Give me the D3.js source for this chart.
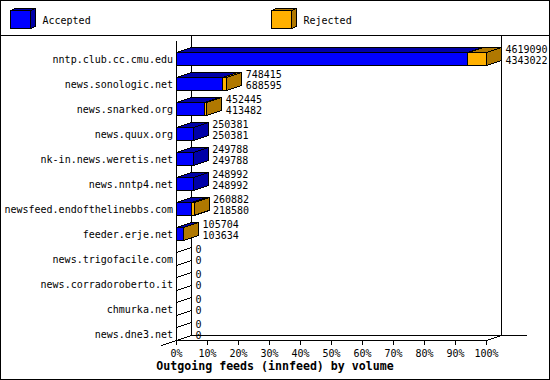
<!DOCTYPE html>
<html>
<head>
<meta charset="utf-8">
<script src="https://cdn.jsdelivr.net/npm/d3@7"></script>
<style>
  body { margin: 0; background: #fff; }
  svg text { font-family: "DejaVu Sans Mono", monospace; }
</style>
</head>
<body>
<div id="chart"></div>
<script>
var hosts = ["nntp.club.cc.cmu.edu", "news.sonologic.net", "news.snarked.org",
             "news.quux.org", "nk-in.news.weretis.net", "news.nntp4.net",
             "newsfeed.endofthelinebbs.com", "feeder.erje.net", "news.trigofacile.com",
             "news.corradoroberto.it", "chmurka.net", "news.dne3.net"],
    offered = [4619090, 748415, 452445, 250381, 249788, 248992, 260882, 105704, 0, 0, 0, 0],
    accepted = [4343022, 688595, 413482, 250381, 249788, 248992, 218580, 103634, 0, 0, 0, 0],
    legendKeys = ["Accepted", "Rejected"],
    pctTicks = [0, 10, 20, 30, 40, 50, 60, 70, 80, 90, 100],
    title = "Outgoing feeds (innfeed) by volume"

var W = 550, H = 380,
    DX = 15, DY = -5,
    colors = { Accepted: ["#0000ff", "#0000a8"], Rejected: ["#ffb000", "#b07800"] },
    maxVal = d3.max(offered)

var svg = d3.select("#chart").append("svg")
    .attr("width", W)
    .attr("height", H)
    .style("shape-rendering", "crispEdges")

var x = d3.scaleLinear().domain([0, maxVal]).range([176.5, 486.5]),
    pct = d3.scaleLinear().domain([0, 100]).range([176.5, 486.5]),
    y = d3.scaleBand().domain(hosts).range([46.5, 346.5])
        .paddingInner(0.48).paddingOuter(0.24)

// frame + legend
svg.append("rect").attr("x", 0.5).attr("y", 0.5).attr("width", W - 1).attr("height", H - 1)
    .attr("fill", "#fff").attr("stroke", "#000")
svg.append("line").attr("x1", 0).attr("x2", W).attr("y1", 35.5).attr("y2", 35.5).attr("stroke", "#000")

function box(g, x0, x1, y0, y1, dx, dy, c) {
    // front, top, side; a zero segment only leaves its outline
    var empty = x1 === x0
    g.append("polygon").attr("points", [[x0, y0], [x1, y0], [x1, y1], [x0, y1]].join(" "))
        .attr("fill", c[0]).attr("stroke", "#000")
    g.append("polygon").attr("points", [[x0, y0], [x0 + dx, y0 + dy], [x1 + dx, y0 + dy], [x1, y0]].join(" "))
        .attr("fill", c[1]).attr("stroke", "#000")
    g.append("polygon").attr("points", [[x1, y0], [x1 + dx, y0 + dy], [x1 + dx, y1 + dy], [x1, y1]].join(" "))
        .attr("fill", empty ? "none" : c[1]).attr("stroke", "#000")
}

var legend = svg.append("g")
legendKeys.forEach(function(k, i) {
    var lx = 10.5 + i * 261
    box(legend, lx, lx + 20, 10.5, 28.5, 5, -2, colors[k])
    legend.append("text").attr("x", lx + 32).attr("y", 24)
        .attr("font-size", 10).text(k)
})

// axes walls
var axes = svg.append("g").attr("stroke", "#000")
axes.append("line").attr("x1", 176.5).attr("x2", 176.5).attr("y1", 40.5).attr("y2", 340.5)
axes.append("line").attr("x1", 191.5).attr("x2", 191.5).attr("y1", 35.5).attr("y2", 335.5)
axes.append("line").attr("x1", 501.5).attr("x2", 501.5).attr("y1", 35.5).attr("y2", 335.5)
axes.append("line").attr("x1", 191.5).attr("x2", 526.5).attr("y1", 335.5).attr("y2", 335.5)
axes.append("line").attr("x1", 176.5).attr("x2", 486.5).attr("y1", 340.5).attr("y2", 340.5)
axes.append("line").attr("x1", 161.5).attr("x2", 191.5).attr("y1", 345.5).attr("y2", 335.5)
axes.append("line").attr("x1", 486.5).attr("x2", 501.5).attr("y1", 340.5).attr("y2", 335.5)

// ticks
var ticks = svg.append("g").selectAll("g").data(pctTicks).join("g")
    .attr("transform", d => "translate(" + pct(d) + ",0)")
ticks.append("line").attr("y1", 340.5).attr("y2", 344.5).attr("stroke", "#000")
ticks.append("text").attr("y", 357).attr("text-anchor", "middle")
    .attr("font-size", 10).text(d => d + "%")

// bars: accepted part, then the rejected remainder up to the offered total
var rows = svg.append("g").selectAll("g").data(hosts).join("g")
rows.each(function(h, i) {
    var g = d3.select(this),
        y0 = y(h), y1 = y(h) + y.bandwidth()
    box(g, x(0), x(accepted[i]), y0, y1, DX, DY, colors.Accepted)
    if (offered[i] > accepted[i])
        box(g, x(accepted[i]), x(offered[i]), y0, y1, DX, DY, colors.Rejected)
    var lx = x(offered[i]) + DX + 4
    g.append("text").attr("x", lx).attr("y", y0 + 0.5).attr("font-size", 10).text(offered[i])
    g.append("text").attr("x", lx).attr("y", y1 - 1.5).attr("font-size", 10).text(accepted[i])
    g.append("text").attr("x", 173).attr("y", y0 + 10.5).attr("text-anchor", "end")
        .attr("font-size", 10).text(h)
})

svg.append("text").attr("x", W / 2).attr("y", 370).attr("text-anchor", "middle")
    .attr("font-size", 11.6).attr("font-weight", "bold").text(title)
</script>
</body>
</html>
